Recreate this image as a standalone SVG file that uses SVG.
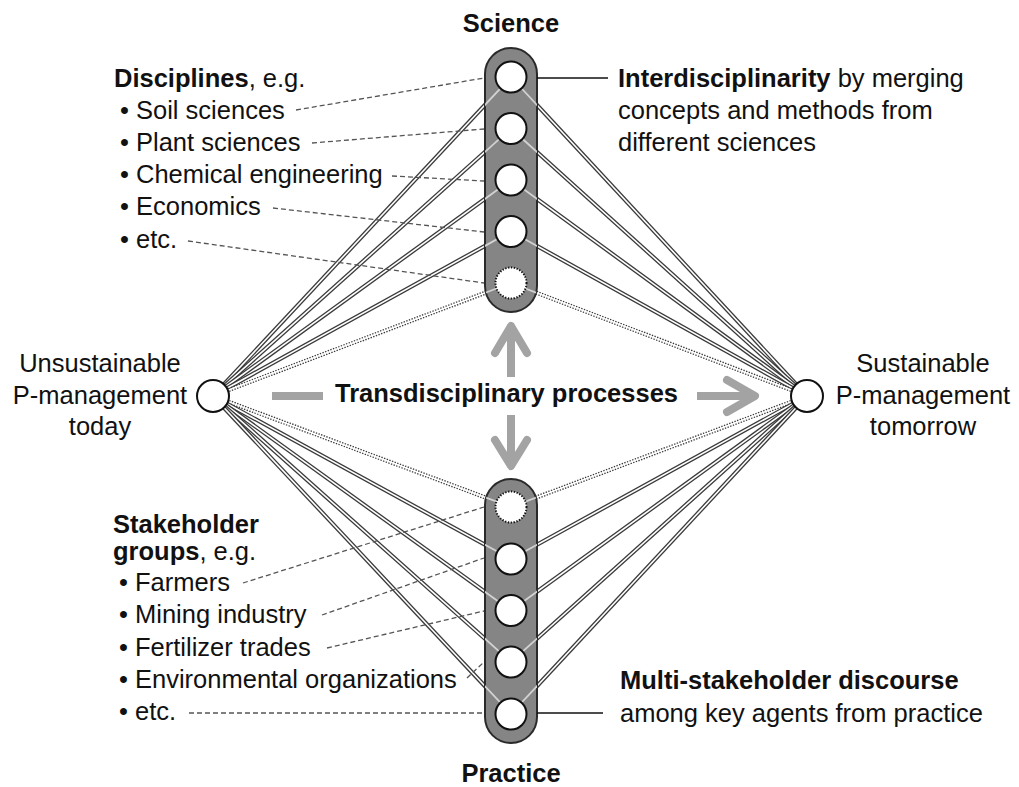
<svg xmlns="http://www.w3.org/2000/svg" xmlns:xlink="http://www.w3.org/1999/xlink" width="1019" height="787" viewBox="0 0 1019 787">
<style>
.dk{stroke:#3a3a3a;stroke-width:4.2;fill:none}
.dot{stroke:#3a3a3a;stroke-width:4.2;fill:none;stroke-dasharray:1.4 1.4}
.wh{stroke:#fff;stroke-width:1.6;fill:none}
.lt{stroke:#d2d2d2;stroke-width:1.8;fill:none}
.col{fill:#858585;stroke:#2a2a2a;stroke-width:2}
.nd{fill:#fff;stroke:#111;stroke-width:2}
.ndd{fill:#fff;stroke:#111;stroke-width:2;stroke-dasharray:1.3 1.6}
.lead{stroke:#555;stroke-width:1.3;stroke-dasharray:5 3;fill:none}
.call{stroke:#111;stroke-width:1.6;fill:none}
.arr{stroke:#a3a3a3;stroke-width:8;fill:none;stroke-linejoin:round}
text{font-family:"Liberation Sans",Arial,sans-serif;font-size:25.5px;fill:#111}
.b{font-weight:bold}
.m{text-anchor:middle}
</style>
<defs>
<line id="lt1" x1="213" y1="396" x2="511" y2="77"/>
<line id="lt2" x1="213" y1="396" x2="511" y2="128.5"/>
<line id="lt3" x1="213" y1="396" x2="511" y2="180"/>
<line id="lt4" x1="213" y1="396" x2="511" y2="231.5"/>
<line id="lt5" x1="213" y1="396" x2="511" y2="283"/>
<line id="lb1" x1="213" y1="396" x2="511" y2="507"/>
<line id="lb2" x1="213" y1="396" x2="511" y2="559"/>
<line id="lb3" x1="213" y1="396" x2="511" y2="610.5"/>
<line id="lb4" x1="213" y1="396" x2="511" y2="662"/>
<line id="lb5" x1="213" y1="396" x2="511" y2="714"/>
<line id="rt1" x1="807" y1="396" x2="511" y2="77"/>
<line id="rt2" x1="807" y1="396" x2="511" y2="128.5"/>
<line id="rt3" x1="807" y1="396" x2="511" y2="180"/>
<line id="rt4" x1="807" y1="396" x2="511" y2="231.5"/>
<line id="rt5" x1="807" y1="396" x2="511" y2="283"/>
<line id="rb1" x1="807" y1="396" x2="511" y2="507"/>
<line id="rb2" x1="807" y1="396" x2="511" y2="559"/>
<line id="rb3" x1="807" y1="396" x2="511" y2="610.5"/>
<line id="rb4" x1="807" y1="396" x2="511" y2="662"/>
<line id="rb5" x1="807" y1="396" x2="511" y2="714"/>
<clipPath id="clipTop"><rect x="485" y="48" width="52" height="264" rx="26"/></clipPath>
<clipPath id="clipBot"><rect x="485" y="479" width="52" height="264" rx="26"/></clipPath>
</defs>

<g id="connectors">
<use xlink:href="#lt1" class="dk"/><use xlink:href="#lt1" class="wh"/>
<use xlink:href="#lt2" class="dk"/><use xlink:href="#lt2" class="wh"/>
<use xlink:href="#lt3" class="dk"/><use xlink:href="#lt3" class="wh"/>
<use xlink:href="#lt4" class="dk"/><use xlink:href="#lt4" class="wh"/>
<use xlink:href="#lt5" class="dot"/><use xlink:href="#lt5" class="wh"/>
<use xlink:href="#lb1" class="dot"/><use xlink:href="#lb1" class="wh"/>
<use xlink:href="#lb2" class="dk"/><use xlink:href="#lb2" class="wh"/>
<use xlink:href="#lb3" class="dk"/><use xlink:href="#lb3" class="wh"/>
<use xlink:href="#lb4" class="dk"/><use xlink:href="#lb4" class="wh"/>
<use xlink:href="#lb5" class="dk"/><use xlink:href="#lb5" class="wh"/>
<use xlink:href="#rt1" class="dk"/><use xlink:href="#rt1" class="wh"/>
<use xlink:href="#rt2" class="dk"/><use xlink:href="#rt2" class="wh"/>
<use xlink:href="#rt3" class="dk"/><use xlink:href="#rt3" class="wh"/>
<use xlink:href="#rt4" class="dk"/><use xlink:href="#rt4" class="wh"/>
<use xlink:href="#rt5" class="dot"/><use xlink:href="#rt5" class="wh"/>
<use xlink:href="#rb1" class="dot"/><use xlink:href="#rb1" class="wh"/>
<use xlink:href="#rb2" class="dk"/><use xlink:href="#rb2" class="wh"/>
<use xlink:href="#rb3" class="dk"/><use xlink:href="#rb3" class="wh"/>
<use xlink:href="#rb4" class="dk"/><use xlink:href="#rb4" class="wh"/>
<use xlink:href="#rb5" class="dk"/><use xlink:href="#rb5" class="wh"/>
</g>

<g id="science">
<rect class="col" x="485" y="48" width="52" height="264" rx="26"/>
<g clip-path="url(#clipTop)">
<use xlink:href="#lt1" class="lt"/><use xlink:href="#lt2" class="lt"/><use xlink:href="#lt3" class="lt"/><use xlink:href="#lt4" class="lt"/><use xlink:href="#lt5" class="lt"/>
<use xlink:href="#rt1" class="lt"/><use xlink:href="#rt2" class="lt"/><use xlink:href="#rt3" class="lt"/><use xlink:href="#rt4" class="lt"/><use xlink:href="#rt5" class="lt"/>
</g>
<circle class="nd" cx="511" cy="77" r="15.5"/>
<circle class="nd" cx="511" cy="128.5" r="15.5"/>
<circle class="nd" cx="511" cy="180" r="15.5"/>
<circle class="nd" cx="511" cy="231.5" r="15.5"/>
<circle class="ndd" cx="511" cy="283" r="15.5"/>
<text class="b m" x="511" y="32">Science</text>
</g>

<g id="practice">
<rect class="col" x="485" y="479" width="52" height="264" rx="26"/>
<g clip-path="url(#clipBot)">
<use xlink:href="#lb1" class="lt"/><use xlink:href="#lb2" class="lt"/><use xlink:href="#lb3" class="lt"/><use xlink:href="#lb4" class="lt"/><use xlink:href="#lb5" class="lt"/>
<use xlink:href="#rb1" class="lt"/><use xlink:href="#rb2" class="lt"/><use xlink:href="#rb3" class="lt"/><use xlink:href="#rb4" class="lt"/><use xlink:href="#rb5" class="lt"/>
</g>
<circle class="ndd" cx="511" cy="507" r="15.5"/>
<circle class="nd" cx="511" cy="559" r="15.5"/>
<circle class="nd" cx="511" cy="610.5" r="15.5"/>
<circle class="nd" cx="511" cy="662" r="15.5"/>
<circle class="nd" cx="511" cy="714" r="15.5"/>
<text class="b m" x="511" y="782">Practice</text>
</g>

<g id="today">
<circle class="nd" cx="213" cy="396" r="16"/>
<text class="m" x="100" y="372">Unsustainable</text>
<text class="m" x="100" y="403.5">P-management</text>
<text class="m" x="100" y="435">today</text>
</g>

<g id="tomorrow">
<circle class="nd" cx="807" cy="396" r="16"/>
<text class="m" x="923" y="372">Sustainable</text>
<text class="m" x="923" y="403.5">P-management</text>
<text class="m" x="923" y="435">tomorrow</text>
</g>

<g id="disciplines">
<text x="114" y="87"><tspan class="b">Disciplines</tspan>, e.g.</text>
<text x="120" y="119">• Soil sciences</text>
<text x="120" y="151">• Plant sciences</text>
<text x="120" y="183">• Chemical engineering</text>
<text x="120" y="215">• Economics</text>
<text x="120" y="248">• etc.</text>
<line class="lead" x1="296" y1="110" x2="484" y2="78"/>
<line class="lead" x1="312" y1="143" x2="484" y2="129"/>
<line class="lead" x1="392" y1="176" x2="484" y2="181"/>
<line class="lead" x1="273" y1="208" x2="484" y2="232"/>
<line class="lead" x1="188" y1="241" x2="484" y2="283"/>
</g>

<g id="stakeholders">
<text class="b" x="113" y="533">Stakeholder</text>
<text x="113" y="560"><tspan class="b">groups</tspan>, e.g.</text>
<text x="119" y="591">• Farmers</text>
<text x="119" y="623">• Mining industry</text>
<text x="119" y="656">• Fertilizer trades</text>
<text x="119" y="688">• Environmental organizations</text>
<text x="119" y="720">• etc.</text>
<line class="lead" x1="243" y1="583" x2="484" y2="507"/>
<line class="lead" x1="322" y1="615" x2="484" y2="558"/>
<line class="lead" x1="327" y1="648" x2="484" y2="611"/>
<line class="lead" x1="467" y1="678" x2="484" y2="662"/>
<line class="lead" x1="189" y1="713" x2="484" y2="713"/>
</g>

<g id="interdisciplinarity">
<line class="call" x1="537" y1="78" x2="608" y2="78"/>
<text x="618" y="87"><tspan class="b">Interdisciplinarity</tspan> by merging</text>
<text x="618" y="119">concepts and methods from</text>
<text x="618" y="151">different sciences</text>
</g>

<g id="multistakeholder">
<line class="call" x1="537" y1="713" x2="603" y2="713"/>
<text class="b" x="620" y="689">Multi-stakeholder discourse</text>
<text x="620" y="722">among key agents from practice</text>
</g>

<g id="transdisciplinary">
<line class="arr" x1="272" y1="396" x2="323" y2="396"/>
<line class="arr" x1="697" y1="396" x2="752" y2="396"/>
<polyline class="arr" stroke-linecap="round" points="727,380 755,396 727,412"/>
<line class="arr" x1="511" y1="377" x2="511" y2="330"/>
<polyline class="arr" stroke-linecap="round" points="495,353 511,326 527,353"/>
<line class="arr" x1="511" y1="415" x2="511" y2="462"/>
<polyline class="arr" stroke-linecap="round" points="495,440 511,466 527,440"/>
<text class="b m" x="506.5" y="402">Transdisciplinary processes</text>
</g>
</svg>
